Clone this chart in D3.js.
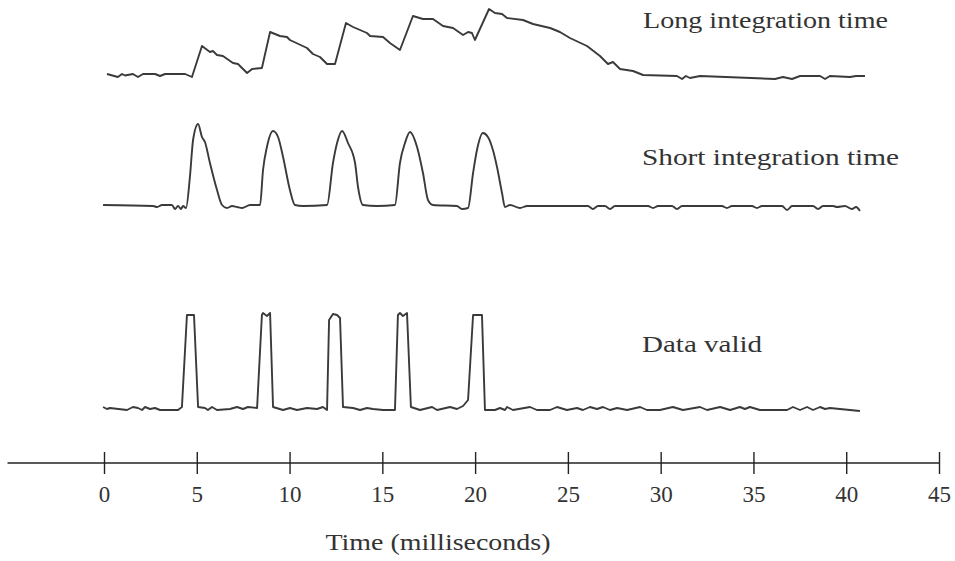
<!DOCTYPE html>
<html>
<head>
<meta charset="utf-8">
<script src="https://cdn.jsdelivr.net/npm/d3@7"></script>
<style>
  html, body { margin: 0; padding: 0; background: #fff; }
  svg { display: block; }
  text { font-family: "Liberation Serif", "DejaVu Serif", "Noto Serif", serif; }
</style>
</head>
<body>
<div id="chart"></div>
<script>
// ---- Data (time in ms, signal in arbitrary units above each trace's baseline) ----
const longT = [0.16,0.75,0.97,1.13,1.56,1.83,2.10,2.75,3.02,3.29,4.37,4.74,5.28,5.71,5.87,6.09,6.41,6.95,7.22,7.71,7.98,8.51,8.95,9.48,9.86,10.02,10.94,11.26,11.64,12.02,12.45,13.04,13.42,13.80,14.17,14.34,15.04,15.41,15.95,16.65,17.19,17.73,18.27,18.81,19.35,19.62,19.83,19.99,20.75,21.07,21.45,21.72,22.58,23.12,24.04,24.57,25.11,26.03,26.73,27.16,27.43,27.81,28.51,29.05,30.88,31.15,31.36,31.58,32.12,36.16,36.59,37.08,37.51,38.59,38.86,39.12,40.20,40.53,41.01];
const longV = [1,-2,1,-0.5,1,-2,1,1,-1,1,1,-2,29,23,24,20,19,12,11,2,6,7,43,39,38,35,27,21,18,11,11,52,48,45,42,39,38,32,25,59,56,56,49,47,40,43,42,35,66,62,61,57,55,51,47,43,37,29,19,11,13,6,4,0,-1,-4,-1,-3,-1,-4,-2,-4,-1,-1,-4,-1,-2,-1,-1];

const shortT = [-0.05,2.64,2.86,3.13,3.66,3.83,3.99,4.15,4.26,4.42,4.63,4.80,5.07,5.28,5.44,5.71,6.09,6.36,6.63,6.90,7.17,7.44,7.87,8.41,8.57,8.78,9.11,9.38,9.65,10.02,10.29,10.72,12.02,12.34,12.56,12.83,13.15,13.53,13.69,13.96,14.71,15.68,15.95,16.22,16.49,16.87,17.19,17.46,17.73,19.02,19.29,19.62,19.89,20.10,20.42,20.69,20.96,21.18,21.45,21.61,21.88,22.42,22.80,26.08,26.35,26.62,27.00,27.27,27.54,29.32,29.59,29.86,30.61,30.88,31.15,33.30,33.57,33.84,34.92,35.19,35.46,36.54,36.81,37.08,38.21,38.48,38.75,39.29,39.50,39.93,40.31,40.53,40.74];
const shortV = [0,-1,-2,0,0,-4,-1,-4,-1,-3,28,65,81,68,63,42,15,0,-3,-1,-2,-3,0,0,35,58,74,68,48,15,0,-1,0,42,62,74,62,42,18,0,-1,0,42,62,73,58,32,5,0,-1,-4,-3,32,55,72,68,55,38,12,-2,0,-3,-1,-1,-4,-1,-1,-4,-1,-1,-3,-1,-1,-4,-1,-1,-3,-1,-1,-3,-1,-1,-5,-1,-1,-4,-1,-1,-2,-1,-4,-2,-6];

const validT = [-0.05,0.16,0.32,1.24,1.56,1.83,2.05,2.21,2.48,2.75,3.02,3.99,4.20,4.47,4.85,5.07,5.44,5.60,5.82,6.09,6.79,7.17,7.49,7.76,8.25,8.51,8.57,8.78,8.95,9.11,9.65,10.02,10.40,10.94,11.48,11.80,12.02,12.13,12.34,12.56,12.72,12.88,13.42,13.80,14.17,14.50,15.04,15.68,15.84,15.95,16.11,16.33,16.54,17.03,17.68,17.95,18.65,19.02,19.35,19.62,19.89,20.37,20.53,21.07,21.34,21.61,21.72,22.04,22.96,23.33,24.04,24.41,24.95,25.49,25.81,26.19,26.57,26.89,27.27,27.65,28.19,28.89,29.26,29.96,30.66,31.20,32.12,32.50,33.20,33.74,34.27,34.54,34.81,35.35,36.81,37.13,37.51,37.89,38.21,38.59,38.86,39.12,39.66,40.20,40.74];
const validV = [3,1,2,0,3,2,0,3,1,2,0,0,3,95,95,3,2,0,3,0,1,3,1,3,2,95,97,94,97,3,0,2,0,2,1,3,0,90,96,95,92,3,2,0,2,1,0,0,95,97,94,97,3,0,3,0,3,1,4,10,95,95,0,0,2,0,3,0,3,0,0,3,0,2,0,3,1,3,0,2,0,3,0,0,3,0,3,0,3,0,3,1,3,0,0,3,0,3,0,3,1,2,1,0,-1];

const traceLabels = ["Long integration time", "Short integration time", "Data valid"];
const tickValues = [0, 5, 10, 15, 20, 25, 30, 35, 40, 45];
const axisTitle = "Time (milliseconds)";
const axisStart = -5.2;

// ---- Layout ----
const W = 955, H = 561;
const svg = d3.select("#chart").append("svg").attr("width", W).attr("height", H);

const x = d3.scaleLinear().domain([0, 45]).range([104, 939]);
const y = d3.scaleLinear().domain([0, 100]).range([0, -100]);

const traces = [
  { t: longT, v: longV, base: 75, label: traceLabels[0], lx: 643, ly: 28, lw: 245, curve: d3.curveLinear },
  { t: shortT, v: shortV, base: 205, label: traceLabels[1], lx: 642, ly: 165, lw: 257, curve: d3.curveMonotoneX },
  { t: validT, v: validV, base: 410, label: traceLabels[2], lx: 642, ly: 352, lw: 120, curve: d3.curveLinear }
];

traces.forEach(tr => {
  const line = d3.line().x(d => x(d[0])).y(d => y(d[1])).curve(tr.curve);
  const g = svg.append("g").attr("transform", `translate(0,${tr.base})`);
  const pts = tr.t.map((t, i) => [t, tr.v[i]]);
  g.append("path").datum(pts)
    .attr("d", line)
    .attr("fill", "none")
    .attr("stroke", "#3a3a3a")
    .attr("stroke-width", 1.9)
    .attr("stroke-linejoin", "round");
  svg.append("text")
    .attr("x", tr.lx).attr("y", tr.ly)
    .attr("font-size", 23)
    .attr("fill", "#333")
    .attr("textLength", tr.lw)
    .attr("lengthAdjust", "spacingAndGlyphs")
    .text(tr.label);
});

// ---- Axis ----
const axisY = 463;
const ax = svg.append("g").attr("transform", `translate(0,${axisY})`)
  .call(d3.axisBottom(x).tickValues(tickValues).tickSize(11).tickFormat(d3.format("d")));
ax.attr("font-family", null);
ax.select(".domain").remove();
ax.selectAll(".tick line").attr("y1", -11).attr("y2", 11).attr("stroke", "#222").attr("stroke-width", 1.4);
ax.selectAll(".tick text").attr("y", 39).attr("dy", 0)
  .attr("font-size", 23).attr("fill", "#333");
ax.append("line")
  .attr("x1", x(axisStart)).attr("x2", x(45))
  .attr("y1", 0).attr("y2", 0)
  .attr("stroke", "#222").attr("stroke-width", 1.4);

svg.append("text")
  .attr("x", x(18)).attr("y", 550)
  .attr("text-anchor", "middle")
  .attr("font-size", 23)
  .attr("fill", "#333")
  .attr("textLength", 225)
  .attr("lengthAdjust", "spacingAndGlyphs")
  .text(axisTitle);
</script>
</body>
</html>
